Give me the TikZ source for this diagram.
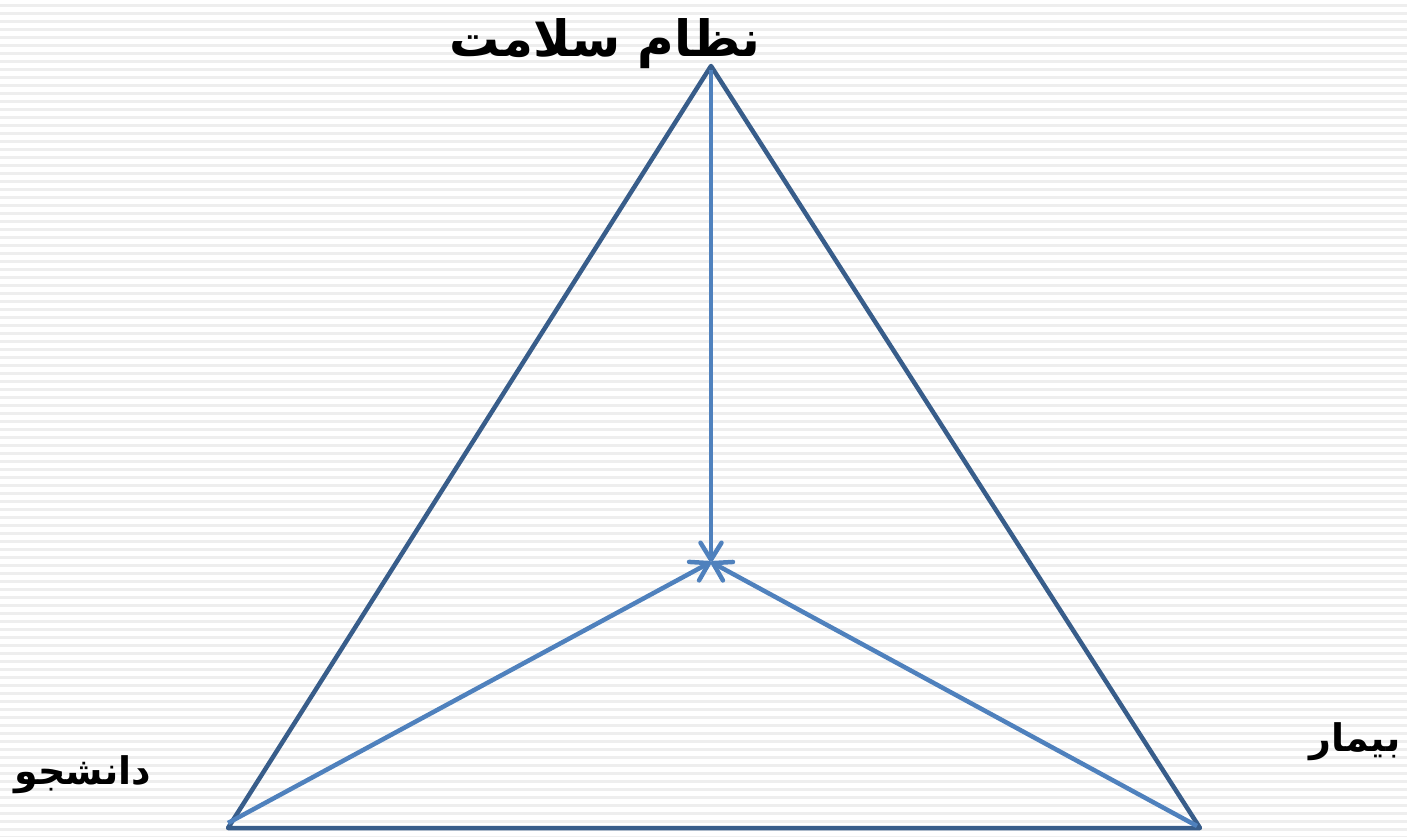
\documentclass[tikz,border=0pt]{standalone}
\usepackage{fontspec}
\usetikzlibrary{arrows.meta}
\TeXXeTstate=1
\newfontfamily\arabicfont[Script=Arabic]{DejaVu Sans}
\definecolor{edgeblue}{HTML}{385D8A}
\definecolor{arrowblue}{HTML}{4F81BD}
\definecolor{stripe}{HTML}{EEEEEE}
\begin{document}
\begin{tikzpicture}[x=1pt,y=-1pt,
  edge/.style={draw=edgeblue,line width=4.5pt},
  flow/.style={draw=arrowblue,line width=4.5pt,-{Straight Barb[length=17pt,width=21pt,line width=4.5pt,round]}},
  label/.style={font=\arabicfont\bfseries\fontsize{38}{42}\selectfont,text=black,inner sep=0pt},
  title/.style={label,font=\arabicfont\bfseries\fontsize{50}{56}\selectfont}]
\useasboundingbox (0,0) rectangle (1407,837);
\fill[white] (0,0) rectangle (1407,837);
\foreach \y in {0,8,...,832}{\fill[stripe] (0,\y+4) rectangle (1407,\y+7);}
\coordinate (apex) at (711,66);
\coordinate (bl) at (228,828);
\coordinate (br) at (1200,828);
\coordinate (center) at (711,562);
\draw[edge,line join=round] (apex) -- (bl) -- (br) -- cycle;
\draw[flow] (711,70) -- (center);
\draw[flow] (228,823) -- (center);
\draw[flow] (1197,826) -- (center);
\node[title] (health) at (605,44) {\beginR نظام سلامت\endR};
\node[label] (student) at (83,775) {\beginR دانشجو\endR};
\node[label] (patient) at (1355,742) {\beginR بیمار\endR};
\end{tikzpicture}
\end{document}
